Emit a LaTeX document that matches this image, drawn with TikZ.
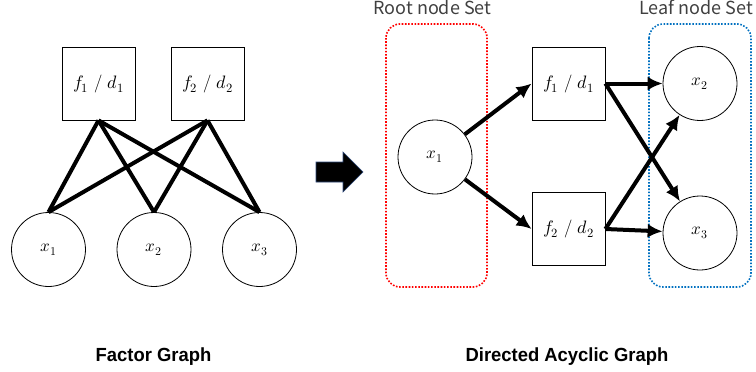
\documentclass[tikz,border=0pt]{standalone}
\usepackage{fontspec}
\usepackage{unicode-math}
\setmathfont{Latin Modern Math}
\setsansfont{Noto Sans CJK JP}
\newfontfamily\titlefont{Liberation Sans}
\usetikzlibrary{arrows.meta}
\definecolor{labelgray}{HTML}{404040}
\definecolor{rootred}{HTML}{FF0000}
\definecolor{leafblue}{HTML}{0070C0}
\definecolor{arrowedge}{HTML}{2F4B7C}
\tikzset{
  factor/.style={draw, line width=0.8pt, minimum width=73pt, minimum height=73pt, inner sep=0pt, font=\fontsize{18}{20}\selectfont},
  var/.style={draw, circle, line width=0.8pt, minimum size=74pt, inner sep=0pt, font=\fontsize{17}{19}\selectfont},
  link/.style={line width=4pt},
  flow/.style={line width=4pt, -{Latex[length=15pt,width=14pt]}},
  setbox/.style={line width=1.6pt, rounded corners=14pt, dash pattern=on 1.6pt off 1.6pt},
  setlabel/.style={text=labelgray, anchor=base, font=\sffamily\fontsize{18}{20}\selectfont},
  caption/.style={anchor=base, font=\titlefont\bfseries\fontsize{19}{22}\selectfont}
}
\begin{document}
\begin{tikzpicture}[x=1pt, y=-1pt]
  \useasboundingbox (0,0) rectangle (756,372);

  % --- factor graph ---
  \node[factor] (ff1) at (98.5,83.5) {$f_1$ / $d_1$};
  \node[factor] (ff2) at (207.5,83.5) {$f_2$ / $d_2$};
  \node[var] (fx1) at (48.5,249.5) {$x_1$};
  \node[var] (fx2) at (154,249.5) {$x_2$};
  \node[var] (fx3) at (259.5,249.5) {$x_3$};
  \foreach \f in {ff1,ff2}
    \foreach \x in {fx1,fx2,fx3}
      \draw[link] (\f.south) -- (\x.north);

  % --- block arrow between the two graphs ---
  \filldraw[fill=black, draw=arrowedge, line width=0.6pt]
    (316,162) -- (343,162) -- (343,152) -- (363,172) -- (343,192) -- (343,182) -- (316,182) -- cycle;

  % --- directed acyclic graph ---
  \draw[setbox, rootred] (386,24) rectangle (487,287);
  \draw[setbox, leafblue] (649,24) rectangle (751,287);
  \node[setlabel] (rootlbl) at (432.5,15) {Root node Set};
  \node[setlabel] (leaflbl) at (696,15) {Leaf node Set};

  \node[var] (dx1) at (435,157) {$x_1$};
  \node[factor] (df1) at (568.5,83.5) {$f_1$ / $d_1$};
  \node[factor] (df2) at (568.5,229) {$f_2$ / $d_2$};
  \node[var] (dx2) at (700,83.5) {$x_2$};
  \node[var] (dx3) at (700,233) {$x_3$};

  \draw[flow] (dx1) -- (df1.west);
  \draw[flow] (dx1) -- (df2.west);
  \draw[flow] (df1.east) -- (dx2);
  \draw[flow] (df1.east) -- (dx3);
  \draw[flow] (df2.east) -- (dx2);
  \draw[flow] (df2.east) -- (dx3);

  % --- captions (slightly narrowed bold sans) ---
  \node[caption] (cap1) at (153.5,361.5) {\scalebox{0.97}[1]{Factor Graph}};
  \node[caption] (cap2) at (567,361.5) {\scalebox{0.97}[1]{Directed Acyclic Graph}};
\end{tikzpicture}
\end{document}
